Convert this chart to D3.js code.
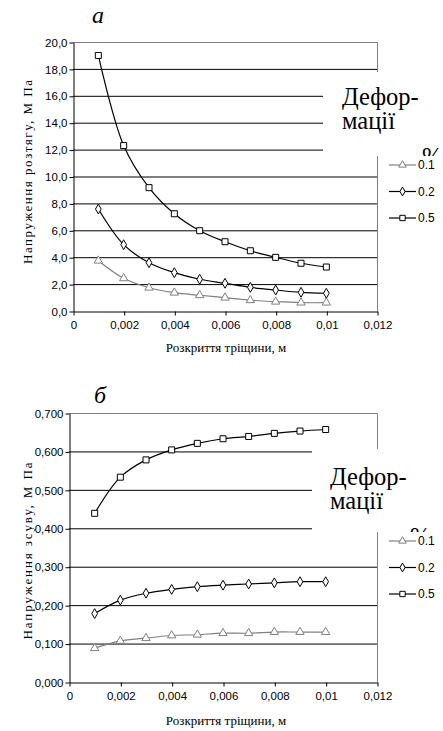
<!DOCTYPE html>
<meta charset="utf-8">
<script src="https://d3js.org/d3.v7.min.js"></script>
<style>
  body { margin: 0; background: #fff; }
  svg { display: block; }
  .serif { font-family: "Liberation Serif", "Times New Roman", serif; }
  .sans { font-family: "Liberation Sans", Arial, sans-serif; }
</style>
<div id="my_dataviz"></div>
<script>

// crack opening, m
var openings = [0.001, 0.002, 0.003, 0.004, 0.005, 0.006, 0.007, 0.008, 0.009, 0.01];
var xTicks = [0, 0.002, 0.004, 0.006, 0.008, 0.01, 0.012];
var strainNames = ["0.1", "0.2", "0.5"];

// a) tensile stress, MPa
var tensile01 = [3.74, 2.43, 1.73, 1.36, 1.17, 0.99, 0.80, 0.69, 0.62, 0.62];
var tensile02 = [7.58, 4.93, 3.59, 2.85, 2.36, 2.06, 1.76, 1.56, 1.39, 1.32];
var tensile05 = [19.0, 12.3, 9.17, 7.23, 5.97, 5.15, 4.48, 3.99, 3.55, 3.27];
var tensileTicks = [0, 2, 4, 6, 8, 10, 12, 14, 16, 18, 20];

// б) shear stress, MPa
var shear01 = [0.088, 0.107, 0.114, 0.121, 0.123, 0.127, 0.127, 0.130, 0.130, 0.130];
var shear02 = [0.178, 0.213, 0.231, 0.241, 0.248, 0.252, 0.255, 0.258, 0.261, 0.261];
var shear05 = [0.439, 0.533, 0.578, 0.604, 0.621, 0.633, 0.639, 0.647, 0.653, 0.657];
var shearTicks = [0, 0.1, 0.2, 0.3, 0.4, 0.5, 0.6, 0.7];

var svg = d3.select("#my_dataviz")
  .append("svg")
    .attr("width", 443)
    .attr("height", 731);

var symbolTypes = [d3.symbolTriangle, d3.symbolDiamond, d3.symbolSquare];
var symbolSizes = [30, 28, 36];
var strokeCols = ["#808080", "#000", "#000"];

function comma(s) { return s.replace(".", ","); }

function drawPanel(p) {
  var x = d3.scaleLinear().domain([0, 0.012]).range([p.left, 377]);
  var y = d3.scaleLinear().domain([0, p.ymax]).range([p.bottom, p.top]);
  var g = svg.append("g");

  // gridlines
  g.selectAll(".grid")
    .data(p.yticks.filter(function(d) { return d > 0 && d < p.ymax; }))
    .enter().append("line")
      .attr("x1", x(0)).attr("x2", x(0.012))
      .attr("y1", function(d) { return y(d) + 0.5; })
      .attr("y2", function(d) { return y(d) + 0.5; })
      .attr("stroke", "#000");

  // top and right frame
  g.append("path")
    .attr("d", "M" + x(0) + "," + (y(p.ymax) + 0.5) + "H" + (x(0.012) + 0.5) + "V" + y(0))
    .attr("fill", "none")
    .attr("stroke", "#808080");

  // axes
  var yAxis = g.append("g")
    .attr("transform", "translate(" + (x(0) + 0.5) + ",0.5)")
    .call(d3.axisLeft(y).tickValues(p.yticks).tickSize(4).tickSizeOuter(0)
      .tickFormat(function(d) { return comma(d3.format(p.yfmt)(d)); }));
  var xAxis = g.append("g")
    .attr("transform", "translate(0.5," + (y(0) + 0.5) + ")")
    .call(d3.axisBottom(x).tickValues(xTicks).tickSize(4).tickSizeOuter(0)
      .tickFormat(function(d) { return comma(d3.format("~g")(d)); }));
  [yAxis, xAxis].forEach(function(a) {
    a.attr("font-family", null).attr("font-size", null);
    a.select(".domain").attr("stroke", "#000");
    a.selectAll(".tick line").attr("stroke", "#000");
    a.selectAll("text")
      .attr("class", "sans")
      .style("font-size", "11.5px")
      .attr("fill", "#000");
  });
  yAxis.selectAll("text").attr("x", -6);
  xAxis.selectAll("text").attr("y", 9);

  // series
  var line = d3.line()
    .x(function(d, i) { return x(openings[i]); })
    .y(function(d) { return y(d); })
    .curve(d3.curveCatmullRom.alpha(0.5));

  p.series.forEach(function(vals, k) {
    g.append("path")
      .attr("d", line(vals))
      .attr("fill", "none")
      .attr("stroke", strokeCols[k])
      .attr("stroke-width", 1.2);
    g.selectAll(".m" + k)
      .data(vals)
      .enter().append("path")
        .attr("d", d3.symbol().type(symbolTypes[k]).size(symbolSizes[k]))
        .attr("transform", function(d, i) {
          return "translate(" + x(openings[i]) + "," + y(d) + ")";
        })
        .attr("fill", "#fff")
        .attr("stroke", strokeCols[k])
        .attr("stroke-width", 1);
  });

  // panel letter
  g.append("text")
    .attr("class", "serif")
    .attr("x", p.letterX).attr("y", p.letterY)
    .style("font-style", "italic")
    .style("font-size", "24px")
    .text(p.letter);

  // axis titles
  g.append("text")
    .attr("class", "serif")
    .attr("transform", "translate(" + p.ylabX + "," + p.ylabY + ") rotate(-90)")
    .attr("text-anchor", "middle")
    .style("font-size", "13px")
    .attr("textLength", p.ylabLen)
    .attr("lengthAdjust", "spacing")
    .text(p.ylabel);
  g.append("text")
    .attr("class", "serif")
    .attr("x", 226).attr("y", p.xlabY)
    .attr("text-anchor", "middle")
    .style("font-size", "13px")
    .text("Розкриття тріщини, м");

  // legend title box
  g.append("rect")
    .attr("x", p.boxX).attr("y", p.boxY)
    .attr("width", 443 - p.boxX).attr("height", p.legY - p.boxY)
    .attr("fill", "#fff");
  var tl = g.append("text")
    .attr("class", "serif")
    .style("font-size", "24.5px");
  tl.append("tspan").attr("x", p.titleX).attr("y", p.titleY).text("Дефор-");
  tl.append("tspan").attr("x", p.titleX).attr("y", p.titleY + 24).text("мації");
  g.append("text")
    .attr("class", "serif")
    .attr("x", p.titleX + 80).attr("y", p.titleY + 60)
    .style("font-size", "24.5px")
    .text("%");

  // legend box
  g.append("rect")
    .attr("x", 378).attr("y", p.legY)
    .attr("width", 65).attr("height", 80)
    .attr("fill", "#fff");
  var leg = g.selectAll(".leg")
    .data(strainNames)
    .enter().append("g")
      .attr("transform", function(d, i) {
        return "translate(0," + (p.legY + 9 + i * 26.5) + ")";
      });
  leg.append("line")
    .attr("x1", 389).attr("x2", 416)
    .attr("stroke", function(d, i) { return strokeCols[i]; })
    .attr("stroke-width", 1.2);
  leg.append("path")
    .attr("d", function(d, i) {
      return d3.symbol().type(symbolTypes[i]).size(symbolSizes[i] * 0.8)();
    })
    .attr("transform", "translate(402.5,0)")
    .attr("fill", "#fff")
    .attr("stroke", function(d, i) { return strokeCols[i]; });
  leg.append("text")
    .attr("class", "sans")
    .attr("x", 418).attr("dy", "0.35em")
    .style("font-size", "12px")
    .text(function(d) { return d; });
}

drawPanel({
  left: 73, top: 42, bottom: 311, ymax: 20,
  yticks: tensileTicks, yfmt: ".1f",
  series: [tensile01, tensile02, tensile05],
  letter: "а", letterX: 92, letterY: 23,
  ylabel: "Напруження розтягу, М Па", ylabX: 32, ylabY: 172, ylabLen: 184,
  xlabY: 352,
  boxX: 323, boxY: 72, legY: 156,
  titleX: 342, titleY: 105
});

drawPanel({
  left: 69, top: 413, bottom: 682, ymax: 0.7,
  yticks: shearTicks, yfmt: ".3f",
  series: [shear01, shear02, shear05],
  letter: "б", letterX: 94, letterY: 403,
  ylabel: "Напруження зсуву, М Па", ylabX: 32, ylabY: 551, ylabLen: 177,
  xlabY: 725,
  boxX: 312, boxY: 449, legY: 532,
  titleX: 330, titleY: 485
});

</script>
